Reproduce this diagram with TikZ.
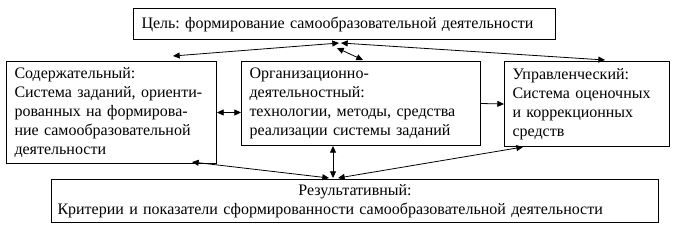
\documentclass[tikz,border=0pt]{standalone}
\usepackage{fontspec}
\setmainfont{Liberation Serif}
\usetikzlibrary{arrows.meta}
\frenchspacing

\begin{document}
\begin{tikzpicture}[x=0.75pt, y=-0.75pt,
  blk/.style={draw, line width=0.75pt, anchor=north west, inner xsep=6pt, inner ysep=0pt,
    align=left, font=\fontsize{12pt}{14.25pt}\selectfont},
  arr/.style={{Triangle[length=5pt,width=4.5pt]}-{Triangle[length=5pt,width=4.5pt]}, line width=0.6pt},
  one/.style={-{Triangle[length=5pt,width=4.5pt]}, line width=0.6pt}
]
\useasboundingbox (0,0) rectangle (677,233);
\node[blk, text width=304.5pt, minimum height=23.25pt] (goal) at (133,8)
  {Цель: формирование самообразовательной деятельности};
\node[blk, text width=145.5pt, minimum height=76.5pt] (cont) at (6,61)
  {Содержательный:\\Система заданий, ориенти-\\рованных на формирова-\\ние самообразовательной\\деятельности};
\node[blk, text width=167.25pt, minimum height=63pt] (org) at (241,61)
  {Организационно-\\деятельностный:\\технологии, методы, средства\\реализации системы заданий};
\node[blk, text width=111.75pt, minimum height=63.75pt] (ctrl) at (504,61)
  {Управленческий:\\Система оценочных\\и коррекционных\\средств};
\node[blk, inner xsep=4.5pt, text width=446.25pt, minimum height=32.25pt, align=center] (res) at (51,179)
  {Результативный:\\\makebox[446.25pt][l]{Критерии и показатели сформированности самообразовательной деятельности}};
% arrow ends
\coordinate (gl) at (339,43);
\coordinate (gr) at (341,43);
\coordinate (gm) at (337,48);
\coordinate (ct) at (173,56);
\coordinate (ot) at (363,60);
\coordinate (ut) at (605,60);
\coordinate (rl) at (329,178);
\coordinate (rv) at (333,178);
\coordinate (rr) at (338,178);
\coordinate (cb) at (192,162);
\coordinate (ub) at (523,147);
\draw[arr] (ct) -- (gl);
\draw[arr] (gr) -- (ut);
\draw[arr] (gm) -- (ot);
\draw[arr] (cont.east) -- (cont.east -| org.west);
\draw[one] (org.east) -- (ctrl.west);
\draw[arr] (rv |- org.south) -- (rv);
\draw[arr] (cb) -- (rl);
\draw[arr] (ub) -- (rr);
\end{tikzpicture}
\end{document}
